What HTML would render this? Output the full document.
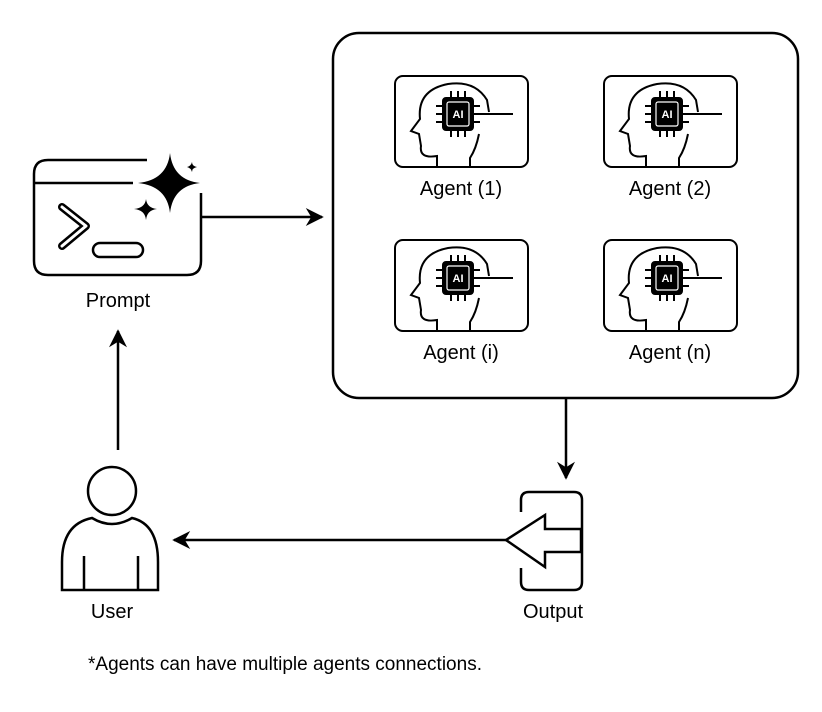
<!DOCTYPE html>
<html><head><style>body{margin:0;background:#fff}svg{display:block}text{font-family:"Liberation Sans",sans-serif;fill:#000}</style></head><body>
<svg width="822" height="712" viewBox="0 0 822 712">
<defs>
<marker id="a" viewBox="0 0 10 10" refX="9" refY="5" markerWidth="20" markerHeight="18" orient="auto" markerUnits="userSpaceOnUse"><path d="M0,0 L10,5 L0,10 L3,5z" fill="#000"/></marker>
<g id="ag" fill="none" stroke="#000" stroke-width="2">
<rect x="0" y="0" width="133" height="91" rx="8"/>
<path d="M42,91 L42,80 Q24,83 26,70 L24,58 L16,55 L25,43 Q22,14 53,8 Q80,4 92,24 L94,36 M84,58 Q81,73 75,82 L75,91"/>
<path d="M56,22v-7M63,22v-7M70,22v-7M56,54v7M63,54v7M70,54v7M48,30h-7M48,38h-7M48,46h-7M78,30h7M78,46h7M78,38h40"/>
<rect x="48" y="22" width="30" height="32" rx="3" fill="#000"/>
<rect x="52" y="26" width="22" height="24" rx="2" fill="#000" stroke="#fff" stroke-width="1.2"/>
</g>
</defs>
<g fill="none" stroke="#000" stroke-width="2.5">
<path d="M147,160 H48 Q34,160 34,174 V261 Q34,275 48,275 H187 Q201,275 201,261 V193"/>
<path d="M34,183 H133"/>
<path d="M62,207 L86,226 L62,246" stroke-width="8" stroke-linecap="round" stroke-linejoin="round"/>
<path d="M62,207 L86,226 L62,246" stroke="#fff" stroke-width="3" stroke-linecap="round" stroke-linejoin="round"/>
<rect x="93" y="243" width="50" height="14" rx="7"/>
</g>
<path d="M170,153 Q173,180 200,183 Q173,186 170,213 Q167,186 138,183 Q167,180 170,153z" fill="#000"/>
<path d="M146,199 Q147,208 157,209 Q147,210 146,220 Q145,210 134,209 Q145,208 146,199z" fill="#000"/>
<path d="M192,162 Q192,166 197,167 Q192,168 192,172 Q191,168 187,167 Q191,166 192,162z" fill="#000"/>
<text x="118" y="307" font-size="20" text-anchor="middle">Prompt</text>
<line x1="202" y1="217" x2="322" y2="217" stroke="#000" stroke-width="2.5" marker-end="url(#a)"/>
<rect x="333" y="33" width="465" height="365" rx="26" fill="none" stroke="#000" stroke-width="2.5"/>
<use href="#ag" x="395" y="76"/><use href="#ag" x="604" y="76"/>
<use href="#ag" x="395" y="240"/><use href="#ag" x="604" y="240"/>
<g font-size="11" font-weight="bold" text-anchor="middle">
<text x="458" y="118" style="fill:#fff">AI</text><text x="667" y="118" style="fill:#fff">AI</text>
<text x="458" y="282" style="fill:#fff">AI</text><text x="667" y="282" style="fill:#fff">AI</text></g>
<g font-size="20" text-anchor="middle">
<text x="461" y="195">Agent (1)</text><text x="670" y="195">Agent (2)</text>
<text x="461" y="359">Agent (i)</text><text x="670" y="359">Agent (n)</text>
<text x="112" y="618">User</text><text x="553" y="618">Output</text></g>
<line x1="566" y1="398" x2="566" y2="478" stroke="#000" stroke-width="2.5" marker-end="url(#a)"/>
<g fill="none" stroke="#000" stroke-width="2.5">
<path d="M521,512 V500 Q521,492 529,492 H574 Q582,492 582,500 V582 Q582,590 574,590 H529 Q521,590 521,582 V568"/>
<path d="M545,515 V529 H581 V552 H545 V567 L506,540z" fill="#fff"/>
</g>
<line x1="506" y1="540" x2="174" y2="540" stroke="#000" stroke-width="2.5" marker-end="url(#a)"/>
<g fill="none" stroke="#000" stroke-width="2.5">
<circle cx="112" cy="491" r="24"/>
<path d="M62,590 V562 Q62,524 92,518 Q112,530 132,518 Q158,524 158,562 V590z"/>
<path d="M84,556 V590 M138,556 V590"/>
</g>
<line x1="118" y1="450" x2="118" y2="331" stroke="#000" stroke-width="2.5" marker-end="url(#a)"/>
<text x="88" y="670" font-size="19">*Agents can have multiple agents connections.</text>
</svg>
</body></html>
